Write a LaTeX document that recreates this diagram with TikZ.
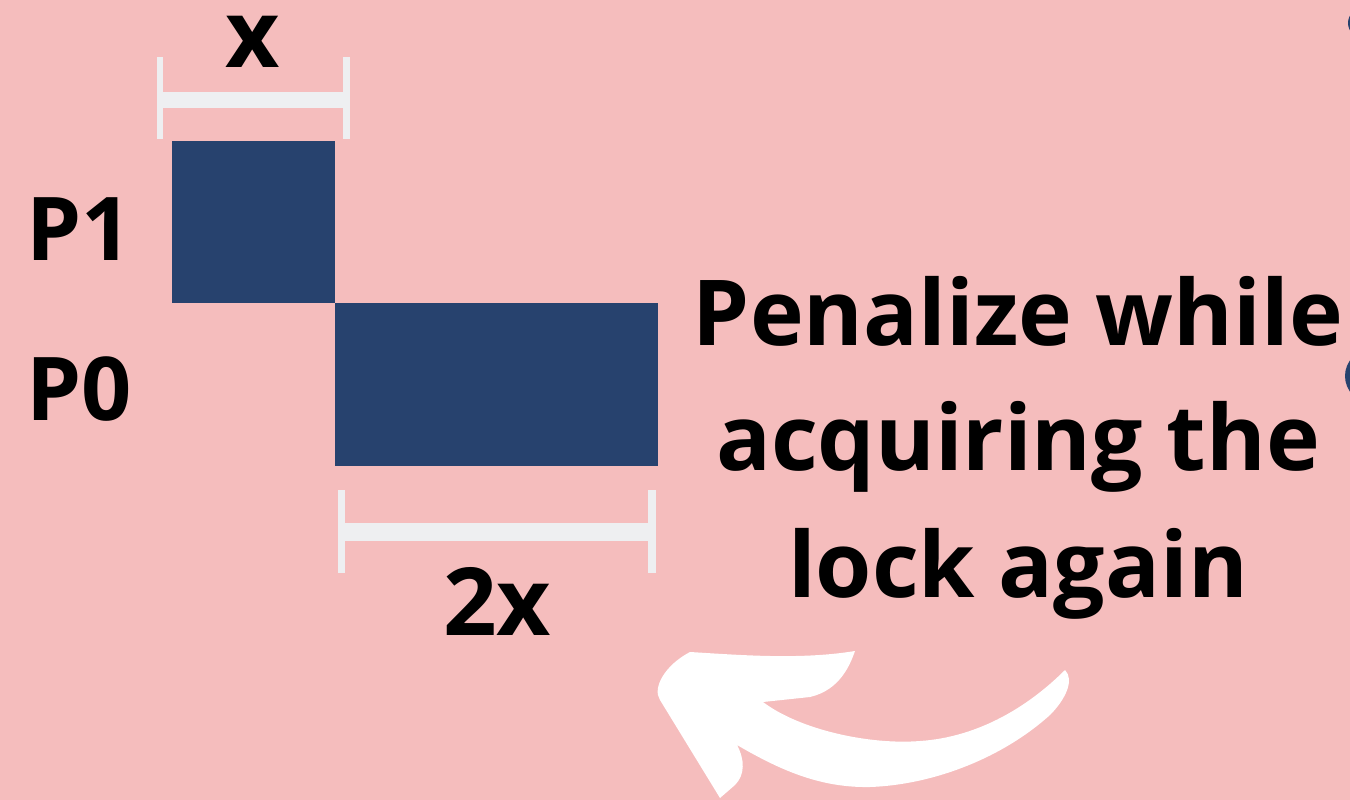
\documentclass[tikz,border=0pt]{standalone}
\usepackage{fontspec}
\setmainfont{Open Sans}
\definecolor{bg}{HTML}{F5BDBD}
\definecolor{navy}{HTML}{27426E}
\definecolor{barc}{HTML}{EEEFF1}
\tikzset{
  lbl/.style={anchor=base, inner sep=0pt, font=\fontsize{88}{100}\selectfont\bfseries, text=black},
  dimlbl/.style={anchor=base, inner sep=0pt, font=\fontsize{94}{100}\selectfont\bfseries, text=black},
  msg/.style={anchor=base, inner sep=0pt, font=\fontsize{91}{100}\selectfont\bfseries, text=black},
  bar/.style={fill=barc},
  blk/.style={fill=navy}
}
\begin{document}
\begin{tikzpicture}[x=1pt,y=-1pt]
\fill[bg] (0,0) rectangle (1350,800);
\useasboundingbox (0,0) rectangle (1350,800);
% partial shapes at right edge
\fill[navy] (1372,376) circle (27);
\fill[navy] (1363,23) circle (15);
% top dimension bracket
\fill[bar] (157,57) rectangle (163,139);
\fill[bar] (163,92) rectangle (343,108);
\fill[bar] (343,57) rectangle (350,139);
% bottom dimension bracket
\fill[bar] (338,490) rectangle (345,573);
\fill[bar] (345,523) rectangle (648,541);
\fill[bar] (648,490) rectangle (656,573);
% blocks
\fill[blk] (172,141) rectangle (335,303);
\fill[blk] (335,303) rectangle (658,466);
% labels
\node[dimlbl, text height=51pt, text depth=0pt] (lx) at (253,67) {x};
\node[dimlbl] (l2x) at (497,635) {2x};
\node[lbl, anchor=base west] (p1) at (26,260) {P1};
\node[lbl, anchor=base west] (p0) at (26,420) {P0};
\node[msg] (m1) at (1018,345) {Penalize while};
\node[msg] (m2) at (1018,470) {acquiring the};
\node[msg] (m3) at (1018,597) {lock again};
% curved arrow
\fill[white] (1065,670)
  .. controls (1075,680) and (1065,700) .. (1050,715)
  .. controls (1000,760) and (930,785) .. (870,787)
  .. controls (820,788) and (780,770) .. (737,745)
  .. controls (745,760) and (745,775) .. (735,785)
  -- (720,798)
  -- (660,700)
  .. controls (652,688) and (665,665) .. (690,652)
  .. controls (740,655) and (800,660) .. (855,651)
  .. controls (850,665) and (840,690) .. (810,697)
  -- (763,702)
  .. controls (800,730) and (870,745) .. (920,741)
  .. controls (980,737) and (1030,705) .. (1065,670) -- cycle;
\end{tikzpicture}
\end{document}
